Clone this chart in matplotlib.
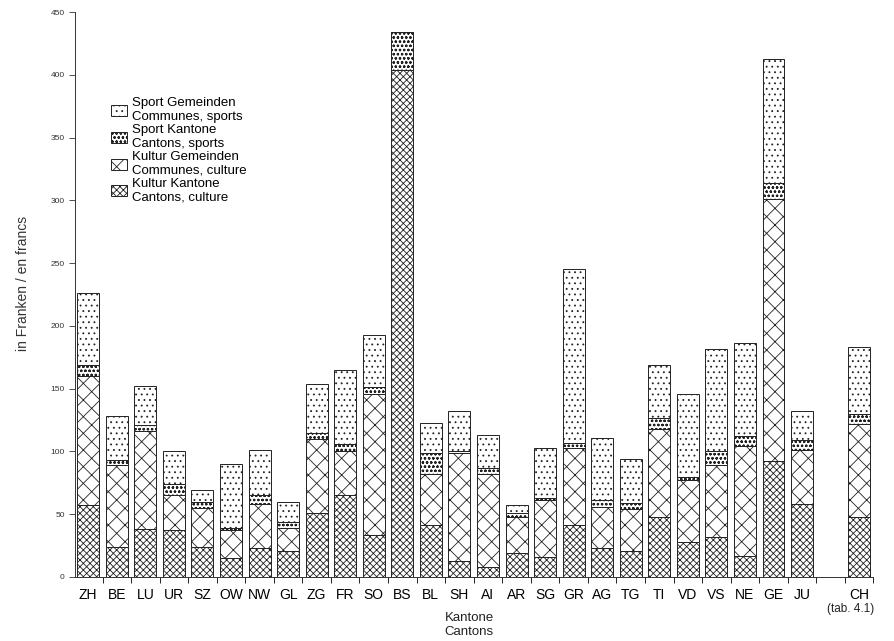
import numpy as np
import matplotlib
matplotlib.use("Agg")
import matplotlib.pyplot as plt

# Ausgaben pro Kopf, in Franken
kantone = ['ZH', 'BE', 'LU', 'UR', 'SZ', 'OW', 'NW', 'GL', 'ZG', 'FR', 'SO', 'BS', 'BL',
           'SH', 'AI', 'AR', 'SG', 'GR', 'AG', 'TG', 'TI', 'VD', 'VS', 'NE', 'GE', 'JU', 'CH']
kultur_kantone = [57, 24, 38, 37, 24, 15, 23, 21, 51, 65, 33, 404, 41,
                  13, 8, 19, 16, 41, 23, 21, 48, 28, 32, 17, 92, 58, 48]
kultur_gemeinden = [103, 65, 78, 28, 31, 22, 35, 18, 59, 35, 113, 0, 41,
                    86, 74, 29, 45, 62, 33, 33, 70, 49, 57, 87, 209, 43, 74]
sport_kantone = [9, 4, 5, 9, 5, 2, 7, 5, 5, 6, 5, 30, 17,
                 1, 5, 3, 2, 4, 5, 5, 9, 3, 11, 8, 13, 8, 8]
sport_gemeinden = [57, 35, 31, 26, 9, 51, 36, 16, 39, 59, 42, 0, 24,
                   32, 26, 6, 40, 138, 50, 35, 42, 66, 82, 74, 99, 23, 53]

plt.rcParams['font.family'] = ['Liberation Sans', 'DejaVu Sans']
plt.rcParams['hatch.linewidth'] = 0.6
plt.rcParams['hatch.color'] = '#222222'

# CH steht nach einer Lücke
x = np.arange(len(kantone), dtype=float)
x[-1] += 1

fig = plt.figure(figsize=(8.94, 6.41), dpi=100)
ax = fig.add_axes([0.084, 0.1, 0.893, 0.881])

serien = [
    (kultur_kantone, 'xxxxx', 'Kultur Kantone\nCantons, culture'),
    (kultur_gemeinden, 'xx', 'Kultur Gemeinden\nCommunes, culture'),
    (sport_kantone, 'oooo', 'Sport Kantone\nCantons, sports'),
    (sport_gemeinden, '...', 'Sport Gemeinden\nCommunes, sports'),
]
unten = np.zeros(len(kantone))
handles = []
for werte, hatch, label in serien:
    b = ax.bar(x, werte, 0.77, bottom=unten, color='white', edgecolor='#222222',
               linewidth=0.7, hatch=hatch, label=label)
    handles.append(b)
    unten += np.array(werte)

ax.set_xlim(-0.46, 27.5)
ax.set_ylim(0, 450)
ax.set_yticks(range(0, 451, 50))
ax.tick_params(axis='y', labelsize=6, length=4, width=0.6, colors='#333333')
ax.set_xticks(x)
ax.set_xticklabels(kantone, fontsize=10)
ax.tick_params(axis='x', which='major', length=0, pad=8)
ax.set_xticks(np.arange(0.5, 28, 1), minor=True)
ax.tick_params(axis='x', which='minor', length=4, width=0.6)

for s in ['top', 'right']:
    ax.spines[s].set_visible(False)
for s in ['left', 'bottom']:
    ax.spines[s].set_linewidth(0.7)
    ax.spines[s].set_color('#333333')

ax.set_ylabel('in Franken / en francs', fontsize=10, color='#333333')
ax.yaxis.set_label_coords(-0.057, 0.52)

ax.legend(handles[::-1], [h.get_label() for h in handles[::-1]], loc='upper left',
          bbox_to_anchor=(0.03, 0.87), frameon=False, fontsize=9.5,
          handlelength=1.2, handleheight=0.9, handletextpad=0.4, labelspacing=0.08)

fig.text(0.525, 0.025, 'Kantone\nCantons', ha='center', va='center', fontsize=9.5,
         linespacing=1.25, color='#222222')
fig.text(0.952, 0.05, '(tab. 4.1)', ha='center', va='center', fontsize=8.5, color='#222222')

fig.savefig('out.png', dpi=100)
